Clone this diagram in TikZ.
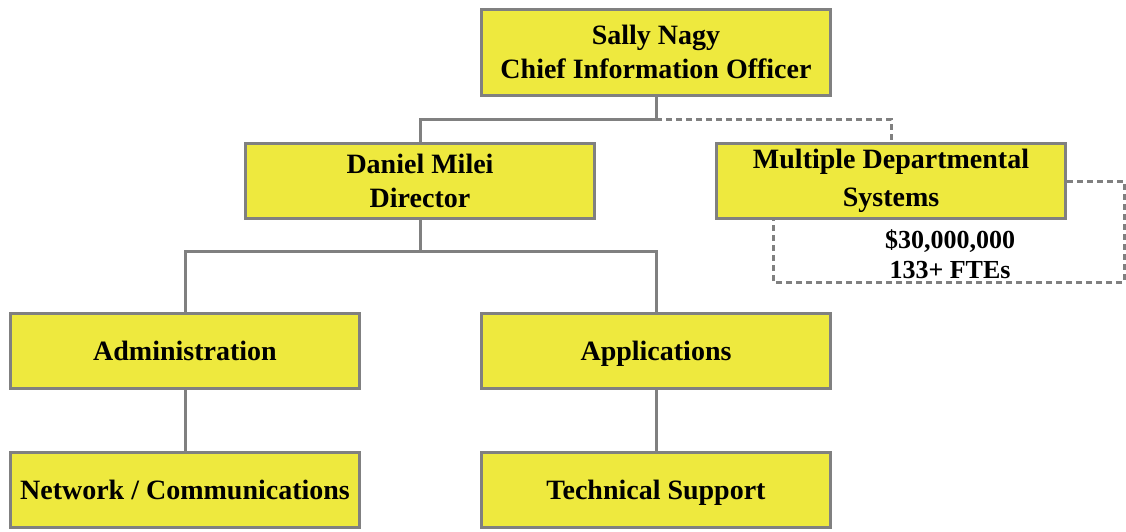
\documentclass[tikz,border=0pt]{standalone}
\usepackage{fontspec}
\setmainfont{Liberation Serif}
\definecolor{boxyellow}{RGB}{238,233,62}
\definecolor{linegray}{RGB}{128,128,128}
\tikzset{
    orgbox/.style={draw=linegray, line width=3pt, fill=boxyellow, minimum width=349pt, minimum height=75pt, align=center, font=\fontsize{28}{34}\selectfont\bfseries, inner sep=0pt},
    oneline/.style={text height=19pt, text depth=0pt},
    conn/.style={draw=linegray, line width=3pt},
    dashline/.style={draw=linegray, line width=3pt, dash pattern=on 6pt off 4pt}
}
\begin{document}
\begin{tikzpicture}[x=1pt, y=-1pt]
    \useasboundingbox (0,0) rectangle (1126,531);

    % 顶层
    \node[orgbox, minimum height=86pt] (cio) at (656,52) {Sally Nagy\\Chief Information Officer};

    % 第二层
    \node[orgbox] (dir) at (420,181) {Daniel Milei\\Director};
    \node[orgbox, font=\fontsize{28}{38}\selectfont\bfseries] (mds) at (891,181) {Multiple Departmental\\Systems};

    % 第三层
    \node[orgbox, oneline] (adm) at (185,351) {Administration};
    \node[orgbox, oneline] (app) at (656,351) {Applications};

    % 第四层
    \node[orgbox, oneline] (net) at (185,490) {Network / Communications};
    \node[orgbox, oneline] (tec) at (656,490) {Technical Support};

    % 预算说明
    \node[align=center, font=\fontsize{26}{30}\selectfont\bfseries] (budget) at (950,254) {\$30,000,000\\133+ FTEs};

    % 连线
    \coordinate (j1) at (656,119);
    \coordinate (j2) at (420,251);
    \draw[conn] (cio.south) -- (j1) -| (dir.north);
    \draw[dashline] (j1) -| (mds.north);
    \draw[conn] (dir.south) -- (j2) -| (adm.north);
    \draw[conn] (j2) -| (app.north);
    \draw[conn] (adm) -- (net);
    \draw[conn] (app) -- (tec);

    % 虚线框
    \coordinate (b1) at (1124,181);
    \coordinate (b2) at (773,282);
    \draw[dashline] (mds.east |- b1) -- (b1) |- (b2) -- (b2 |- mds.south);
\end{tikzpicture}
\end{document}
